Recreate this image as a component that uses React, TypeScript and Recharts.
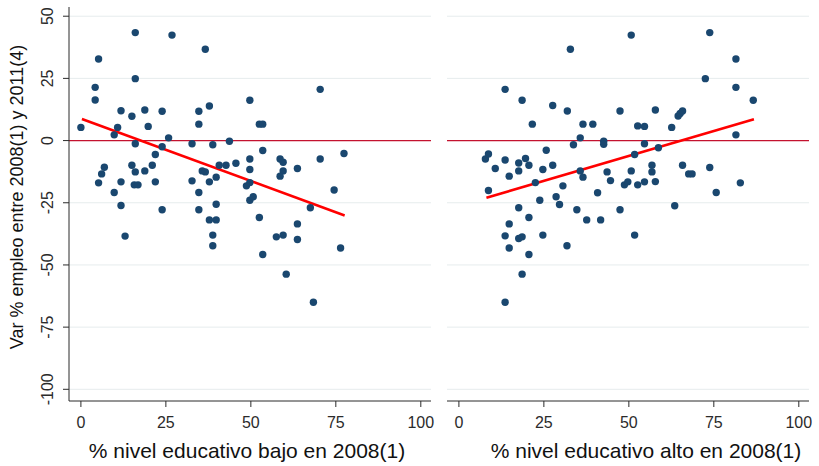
import React from 'react'
import {
  ScatterChart,
  Scatter,
  XAxis,
  YAxis,
  CartesianGrid,
  ReferenceLine,
  Label,
} from 'recharts'

// [x, y] pairs
const lowEducation: [number, number][] = [
  [0, 5.3], [4.2, 21.4], [4.2, 16.3], [5.2, 32.8], [5.2, -17], [6.1, -13.4], [6.9, -10.7],
  [9.8, 2.3], [10.8, 5.3], [9.8, -20.9], [11.8, 12], [11.8, -16.6], [11.8, -26.1], [13, -38.4],
  [15, 9.8], [15, -9.9], [16, 43.4], [16, 24.9], [16, -1.3], [16, -12.6], [15.7, -17.8],
  [16.8, -17.8], [18.8, 12.3], [18.8, -12.2], [19.8, 5.7], [21, -9.9], [21.9, -5.6],
  [21.9, -16.6], [23.9, 11.8], [23.9, -2.5], [23.9, -27.8], [25.8, 1.1], [26.8, 42.4],
  [32.7, -1.3], [32.7, -16.2], [34.7, 11.8], [34.7, 6.6], [34.7, -20.9], [34.7, -27.8],
  [35.7, -12.2], [36.6, 36.7], [36.6, -12.6], [37.8, 13.9], [37.8, -16.6], [38.8, -1.7],
  [39.8, -14.7], [39.8, -25.6], [37.8, -31.9], [39.8, -31.9], [38.8, -38], [38.8, -42.3],
  [40.7, -9.9], [42.7, -9.9], [43.7, -0.3], [45.6, -9.1], [48.7, -18.2], [49.7, 16.2],
  [49.7, -7.4], [49.7, -11.6], [49.7, -16.9], [49.7, -24], [50.7, -22.6], [52.5, -30.9],
  [52.5, 6.6], [53.5, 6.6], [53.5, -4], [53.5, -45.8], [58.6, -7.4], [59.5, -8.7],
  [59.5, -12.2], [58.6, -14.3], [57.5, -38.7], [59.5, -38], [60.4, -53.7], [63.7, -11.2],
  [63.7, -33.5], [63.7, -39.8], [67.5, -27], [68.4, -65], [70.4, 20.6], [70.4, -7.4],
  [74.5, -19.9], [76.4, -43.2], [77.4, -5.2],
]

const highEducation: [number, number][] = [
  [7.8, -7.4], [8.7, -5.4], [8.7, -20.1], [10.7, -11.2], [13.6, 20.6], [13.6, -7.8],
  [14.8, -14.3], [13.6, -38.3], [14.8, -33.5], [14.8, -43.2], [13.6, -65], [17.6, -9],
  [17.6, -12.2], [17.6, -27], [17.6, -39.4], [18.6, -38.7], [18.6, 16.2], [18.6, -53.7],
  [19.6, -7.2], [20.6, -9.9], [20.6, -30.9], [20.6, -45.8], [21.6, 6.6], [22.5, -16.9],
  [23.8, -24], [24.7, -11.6], [24.7, -38], [25.7, -3.9], [27.6, 14.1], [27.6, -9.9],
  [28.6, -22.6], [29.6, -25.7], [30.6, -18.2], [31.9, 11.9], [31.8, -42.3], [32.8, 36.7],
  [33.7, -1.7], [34.7, -27.8], [35.7, 1.1], [35.7, -12.2], [36.5, 6.6], [36.5, -14.7],
  [37.6, -31.9], [39.4, 6.6], [40.8, -21], [41.7, -31.9], [42.6, -0.3], [42.6, -1.5],
  [43.6, -12.6], [44.6, -16.1], [47.4, 11.9], [47.4, -27.8], [48.7, -17.8], [49.7, -16.6],
  [50.7, 42.4], [50.7, -12.2], [51.7, -5.6], [51.7, -38], [52.6, 5.9], [52.6, -17.8],
  [54.6, 5.7], [54.6, -1.3], [54.6, -16.6], [56.8, -9.9], [56.8, -12.6], [57.8, 12.3],
  [57.8, -16.5], [58.7, -2.9], [62.6, 5.3], [63.5, -26.2], [64.5, 9.9], [65.1, 10.9],
  [65.8, 11.9], [65.8, -9.9], [67.6, -13.4], [68.6, -13.4], [72.5, 24.9], [73.8, 43.4],
  [73.8, -10.8], [75.7, -20.9], [81.5, 32.8], [81.5, 21.4], [81.5, 2.3], [82.8, -17],
  [86.6, 16.2],
]

// fitted line endpoints
const lowFit: [number, number][] = [[0.3, 8.7], [77.6, -30.1]]
const highFit: [number, number][] = [[8.1, -23], [86.8, 8.6]]

const xTicks = [0, 25, 50, 75, 100]
const yTicks = [-100, -75, -50, -25, 0, 25, 50]
const gridValues = [-100, -75, -50, -25, 25, 50]

const yTitle = 'Var % empleo entre 2008(1) y 2011(4)'
const lowTitle = '% nivel educativo bajo en 2008(1)'
const highTitle = '% nivel educativo alto en 2008(1)'

const FONT = '"Liberation Sans", Arial, sans-serif'
const DOT = '#1a476f'
const AXIS = '#2b2b2b'
const X_DOMAIN: [number, number] = [-3.5, 103]
const Y_DOMAIN: [number, number] = [-104.7, 53.7]

const toPoints = (pairs: [number, number][]) => pairs.map(([x, y]) => ({ x, y }))

const Dot = (props: any) => <circle cx={props.cx} cy={props.cy} r={3.7} fill={DOT} />

const YTick = (props: any) => {
  const { y, payload } = props
  return (
    <text
      x={53}
      y={y}
      transform={`rotate(-90, 53, ${y})`}
      textAnchor="middle"
      fontSize={16}
      fontFamily={FONT}
      fill={AXIS}
    >
      {payload.value}
    </text>
  )
}

const title = (text: string, cx: number) => () => (
  <text x={cx} y={458} textAnchor="middle" fontSize={21} fontFamily={FONT} fill="#111">
    {text}
  </text>
)

function Panel({
  points,
  fit,
  xLabel,
  labelX,
  showY,
}: {
  points: [number, number][]
  fit: [number, number][]
  xLabel: string
  labelX: number
  showY: boolean
}) {
  const width = showY ? 440 : 379
  return (
    <ScatterChart
      width={width}
      height={466}
      margin={showY ? { top: 7, right: 9, bottom: 0, left: 0 } : { top: 7, right: 10, bottom: 0, left: 7 }}
      style={{ fontFamily: FONT }}
    >
      <CartesianGrid horizontal vertical={false} horizontalValues={gridValues} stroke="#e6eced" strokeWidth={1} />
      <XAxis
        dataKey="x"
        type="number"
        domain={X_DOMAIN}
        ticks={xTicks}
        allowDataOverflow
        height={65}
        tickSize={6}
        tickMargin={10}
        stroke={AXIS}
        tick={{ fontSize: 16, fill: AXIS, fontFamily: FONT }}
      >
        <Label content={title(xLabel, labelX)} />
      </XAxis>
      <YAxis
        dataKey="y"
        type="number"
        domain={Y_DOMAIN}
        ticks={yTicks}
        allowDataOverflow
        hide={!showY}
        width={69}
        tickSize={6}
        stroke={AXIS}
        tick={<YTick />}
      >
        {showY && (
          <Label
            content={() => (
              <text
                x={23}
                y={197}
                transform="rotate(-90, 23, 197)"
                textAnchor="middle"
                fontSize={18}
                fontFamily={FONT}
                fill="#111"
              >
                {yTitle}
              </text>
            )}
          />
        )}
      </YAxis>
      <ReferenceLine y={0} stroke="#c4122f" strokeWidth={1.2} />
      <Scatter data={toPoints(points)} shape={<Dot />} isAnimationActive={false} />
      <ReferenceLine
        segment={toPoints(fit)}
        stroke="#ff0000"
        strokeWidth={2.6}
      />
    </ScatterChart>
  )
}

export default function App() {
  return (
    <div style={{ position: 'absolute', left: 0, top: 0, width: 819, height: 466, background: '#fff' }}>
      <div style={{ position: 'absolute', left: 0, top: 0 }}>
        <Panel points={lowEducation} fit={lowFit} xLabel={lowTitle} labelX={247} showY />
      </div>
      <div style={{ position: 'absolute', left: 440, top: 0 }}>
        <Panel points={highEducation} fit={highFit} xLabel={highTitle} labelX={206} showY={false} />
      </div>
    </div>
  )
}
